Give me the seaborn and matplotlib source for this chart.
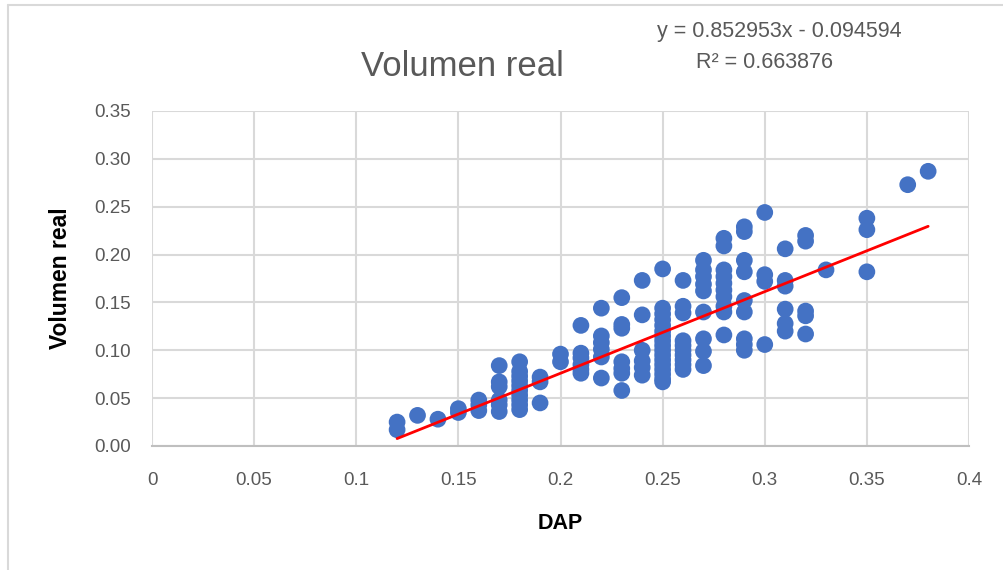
import numpy as np
import pandas as pd
import matplotlib
matplotlib.use('Agg')
import matplotlib.pyplot as plt
import seaborn as sns
from matplotlib.lines import Line2D

# DAP values, one column of points per diameter
dap_cols = [0.12, 0.13, 0.14, 0.15, 0.16, 0.17, 0.18, 0.19, 0.20, 0.21, 0.22, 0.23,
            0.24, 0.25, 0.26, 0.27, 0.28, 0.29, 0.30, 0.31, 0.32, 0.33, 0.35, 0.37, 0.38]

vol_cols = [
    [0.025, 0.017],
    [0.032],
    [0.028],
    [0.039, 0.035],
    [0.048, 0.043, 0.037],
    [0.084, 0.067, 0.062, 0.048, 0.043, 0.036],
    [0.088, 0.078, 0.073, 0.068, 0.063, 0.058, 0.053, 0.048, 0.043, 0.038],
    [0.072, 0.067, 0.045],
    [0.096, 0.088],
    [0.126, 0.097, 0.092, 0.085, 0.080, 0.076],
    [0.144, 0.115, 0.108, 0.101, 0.093, 0.071],
    [0.155, 0.127, 0.123, 0.088, 0.081, 0.076, 0.058],
    [0.173, 0.137, 0.100, 0.089, 0.082, 0.074],
    [0.185, 0.144, 0.138, 0.132, 0.126, 0.120, 0.115, 0.110, 0.105, 0.100,
     0.095, 0.090, 0.085, 0.080, 0.075, 0.070, 0.067],
    [0.173, 0.146, 0.139, 0.110, 0.105, 0.100, 0.095, 0.090, 0.085, 0.080],
    [0.194, 0.184, 0.177, 0.169, 0.162, 0.140, 0.112, 0.099, 0.084],
    [0.217, 0.209, 0.184, 0.177, 0.170, 0.163, 0.156, 0.146, 0.140, 0.116],
    [0.229, 0.224, 0.194, 0.182, 0.152, 0.140, 0.112, 0.106, 0.100],
    [0.244, 0.179, 0.172, 0.106],
    [0.206, 0.173, 0.167, 0.143, 0.128, 0.120],
    [0.220, 0.214, 0.141, 0.136, 0.117],
    [0.184],
    [0.238, 0.226, 0.182],
    [0.273],
    [0.287],
]

slope = 0.852953
intercept = -0.094594
r2 = 0.663876

x_ticks = [0, 0.05, 0.1, 0.15, 0.2, 0.25, 0.3, 0.35, 0.4]
x_tick_labels = ['0', '0.05', '0.1', '0.15', '0.2', '0.25', '0.3', '0.35', '0.4']
y_ticks = [0.00, 0.05, 0.10, 0.15, 0.20, 0.25, 0.30, 0.35]

df = pd.DataFrame({
    'DAP': [d for d, col in zip(dap_cols, vol_cols) for _ in col],
    'Volumen real': [v for col in vol_cols for v in col],
})
trend = pd.DataFrame({'DAP': [df['DAP'].min(), df['DAP'].max()]})
trend['fit'] = slope * trend['DAP'] + intercept

sns.set_theme(style='whitegrid')
plt.rcParams['font.family'] = ['Liberation Sans', 'DejaVu Sans']

GRAY_TXT = '#595959'
GRID = '#d9d9d9'
BLUE = '#4472c4'

fig = plt.figure(figsize=(10.04, 5.70), dpi=100)
fig.patch.set_facecolor('white')
ax = fig.add_axes([152 / 1004, 124 / 570, 817 / 1004, 335 / 570])

sns.scatterplot(data=df, x='DAP', y='Volumen real', ax=ax, color=BLUE,
                s=145, edgecolor='none', zorder=3)
sns.lineplot(data=trend, x='DAP', y='fit', ax=ax, color='#ff0000', lw=2, zorder=4)

ax.set_xlim(0, 0.4)
ax.set_ylim(0, 0.35)
ax.set_xticks(x_ticks)
ax.set_xticklabels(x_tick_labels)
ax.set_yticks(y_ticks)
ax.set_yticklabels([f'{v:.2f}' for v in y_ticks])
ax.tick_params(axis='x', labelsize=13.5, labelcolor=GRAY_TXT, pad=19, length=0)
ax.tick_params(axis='y', labelsize=13.5, labelcolor=GRAY_TXT, pad=15, length=0)
ax.grid(True, color=GRID, lw=1.5)
ax.set_facecolor('white')
for side, sp in ax.spines.items():
    sp.set_visible(side == 'bottom')
ax.spines['bottom'].set_color('#bfbfbf')
ax.spines['bottom'].set_linewidth(1.5)

ax.set_xlabel('DAP', fontsize=15.5, fontweight='bold', color='black', labelpad=17)
ax.set_ylabel('Volumen real', fontsize=16.5, fontweight='bold', color='black', labelpad=16)

fig.text(462 / 1004, 1 - 66 / 570, 'Volumen real', ha='center', va='center',
         fontsize=25, color=GRAY_TXT)
fig.text(779 / 1004, 1 - 31 / 570, f'y = {slope:.6f}x - {abs(intercept):.6f}',
         ha='center', va='center', fontsize=15.5, color=GRAY_TXT)
fig.text(765 / 1004, 1 - 62 / 570, f'R² = {r2:.6f}',
         ha='center', va='center', fontsize=15.5, color=GRAY_TXT)

# chart area border (cropped at right/bottom)
fig.add_artist(Line2D([8 / 1004, 1], [1 - 5 / 570, 1 - 5 / 570], color=GRID, lw=1.5,
                      transform=fig.transFigure))
fig.add_artist(Line2D([8 / 1004, 8 / 1004], [0, 1 - 5 / 570], color=GRID, lw=1.5,
                      transform=fig.transFigure))

fig.savefig('out.png', dpi=100, facecolor='white')
